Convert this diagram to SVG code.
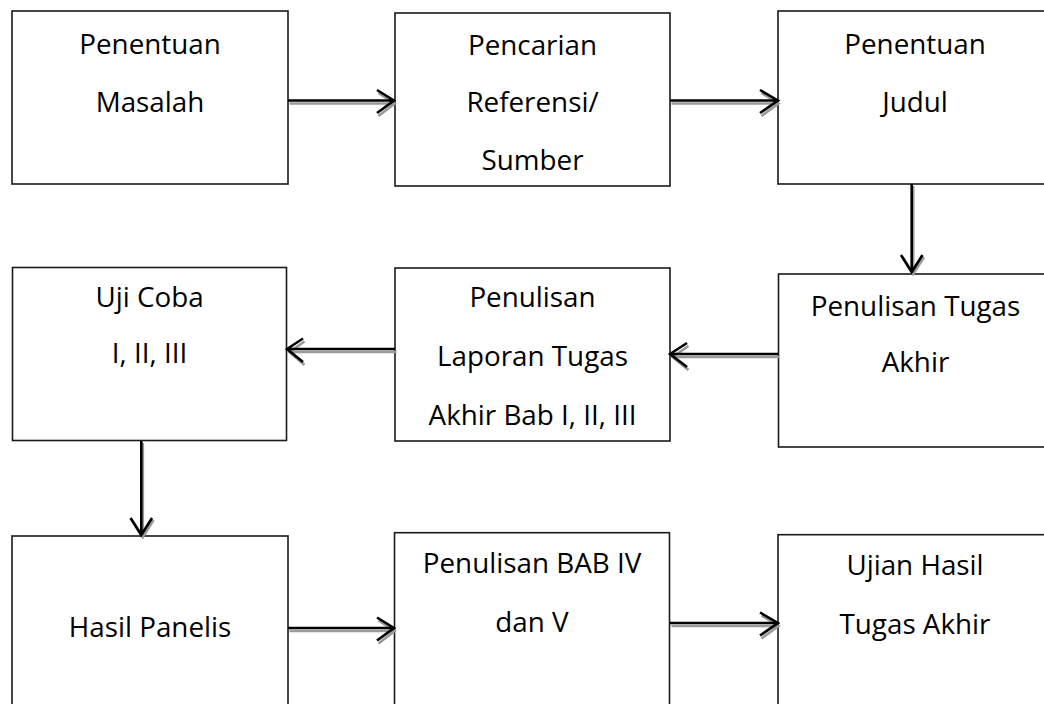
<svg xmlns="http://www.w3.org/2000/svg" width="1044" height="704" viewBox="0 0 1044 704">
<style>
.box{fill:#fff;stroke:#1a1a1a;stroke-width:1.6}
.t{font-family:"Open Sans","Noto Sans",sans-serif;font-size:27.8px;fill:#000;text-anchor:middle}
.a{fill:none;stroke:#000;stroke-width:2.6;stroke-linecap:butt;stroke-linejoin:miter}
.s{fill:none;stroke:#9a9a9a;stroke-width:2.6}
</style>
<rect width="1044" height="704" fill="#fff"/>
<g id="n1"><rect class="box" x="12" y="11" width="276" height="173"/><text class="t" x="150" y="53.5">Penentuan</text><text class="t" x="150" y="111.5">Masalah</text></g>
<g id="n2"><rect class="box" x="395" y="13" width="275" height="173"/><text class="t" x="532.5" y="55">Pencarian</text><text class="t" x="532.5" y="112">Referensi/</text><text class="t" x="532.5" y="170">Sumber</text></g>
<g id="n3"><rect class="box" x="778" y="11" width="276" height="173"/><text class="t" x="915" y="53.5">Penentuan</text><text class="t" x="915" y="111.5">Judul</text></g>
<g id="n4"><rect class="box" x="12.5" y="267.5" width="274" height="173"/><text class="t" x="149.5" y="307">Uji Coba</text><text class="t" x="149.5" y="363">I, II, III</text></g>
<g id="n5"><rect class="box" x="395" y="268" width="275" height="173"/><text class="t" x="532.5" y="307">Penulisan</text><text class="t" x="532.5" y="366">Laporan Tugas</text><text class="t" x="532.5" y="425">Akhir Bab I, II, III</text></g>
<g id="n6"><rect class="box" x="778.5" y="274" width="276" height="173"/><text class="t" x="915.5" y="316">Penulisan Tugas</text><text class="t" x="915.5" y="372">Akhir</text></g>
<g id="n7"><rect class="box" x="12" y="536" width="276" height="175"/><text class="t" x="150" y="637">Hasil Panelis</text></g>
<g id="n8"><rect class="box" x="394.5" y="532.7" width="275" height="175"/><text class="t" x="532" y="572.5">Penulisan BAB IV</text><text class="t" x="532" y="631.7">dan V</text></g>
<g id="n9"><rect class="box" x="778" y="534.7" width="276" height="175"/><text class="t" x="915" y="575">Ujian Hasil</text><text class="t" x="915" y="634">Tugas Akhir</text></g>
<g id="connectors">
<g transform="translate(1.5,3)"><path class="s" d="M288 100.5H393M377 90L393 100.5L377 113"/></g>
<path class="a" d="M288 100.5H394M377 90L394 100.5L377 113"/>
<g transform="translate(1.5,3)"><path class="s" d="M670 100.5H777M760 90L777 100.5L760 113"/></g>
<path class="a" d="M670 100.5H778M760 90L778 100.5L760 113"/>
<g transform="translate(1.5,2)"><path class="s" d="M911.7 184V271M901 255L911.7 272L922.5 255"/></g>
<path class="a" d="M911.7 184V272M901 255L911.7 272L922.5 255"/>
<g transform="translate(1.5,3)"><path class="s" d="M778 354H671M687 343L671 354L687 367"/></g>
<path class="a" d="M778 354H670M687 343L670 354L687 367"/>
<g transform="translate(1.5,3)"><path class="s" d="M395 349H288M303 338.5L288 349L303 362"/></g>
<path class="a" d="M395 349H287M303 338.5L287 349L303 362"/>
<g transform="translate(1.5,2)"><path class="s" d="M141.3 441V535M130.5 518L141.3 535L152 518"/></g>
<path class="a" d="M141.3 441V535M130.5 518L141.3 535L152 518"/>
<g transform="translate(1.5,3)"><path class="s" d="M288 628H393M377 617.5L393 628L377 640.5"/></g>
<path class="a" d="M288 628H394M377 617.5L394 628L377 640.5"/>
<g transform="translate(1.5,3)"><path class="s" d="M670 623H777M760 612.5L777 623L760 635.5"/></g>
<path class="a" d="M670 623H778M760 612.5L778 623L760 635.5"/>
</g>
</svg>
